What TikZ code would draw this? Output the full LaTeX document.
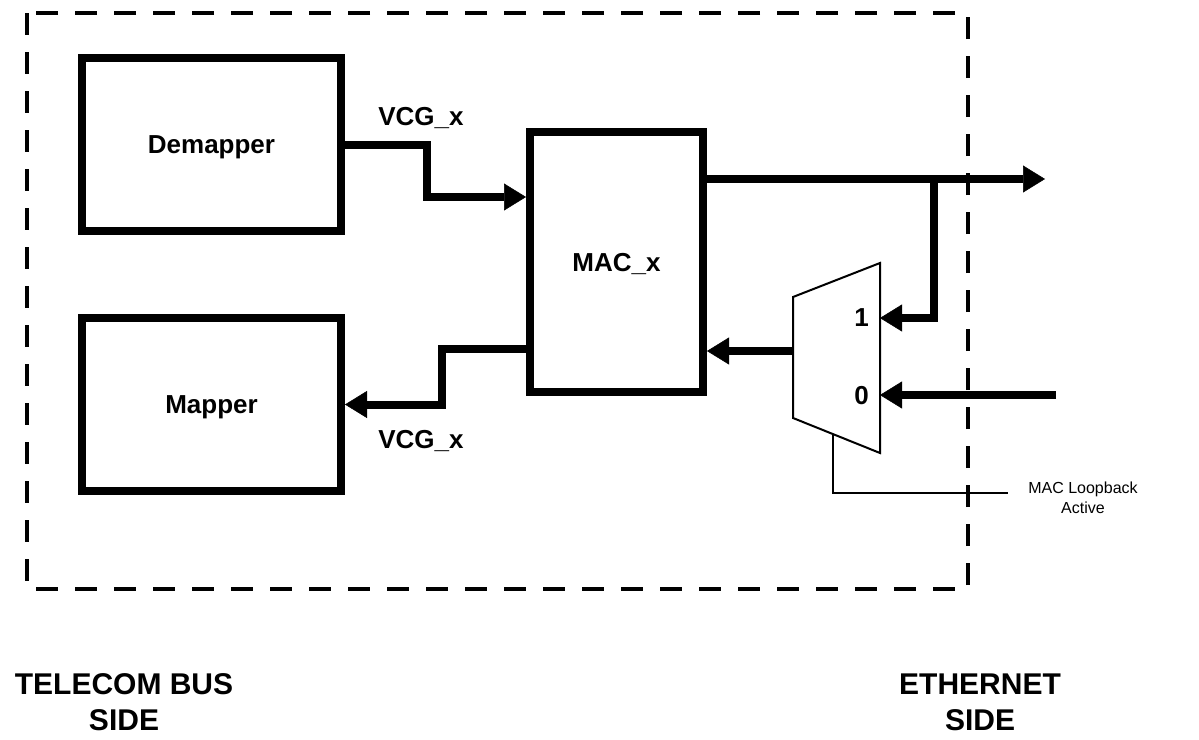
\documentclass[tikz,border=0pt]{standalone}
\usepackage{fontspec}
\setmainfont{Liberation Sans}
\usetikzlibrary{arrows.meta,calc}
\begin{document}
\begin{tikzpicture}[x=1pt,y=-1pt,
  blk/.style={draw,line width=8pt,inner sep=0pt,text depth=0pt,
    font=\fontsize{26}{30}\selectfont\bfseries},
  wire/.style={line width=8pt},
  arr/.style={wire,-{Triangle[length=22pt,width=27pt,line width=0.5pt]}},
  thin/.style={line width=2pt},
  lbl/.style={inner sep=0pt,font=\fontsize{26}{30}\selectfont\bfseries},
  side/.style={inner sep=0pt,align=center,anchor=north,font=\fontsize{30}{36}\selectfont\bfseries}]
\useasboundingbox (0,0) rectangle (1199,739);
% dashed boundary
\draw[line width=4.5pt,dash pattern=on 22pt off 17pt] (27,13) rectangle (968,589);
% blocks
\node[blk,minimum width=259pt,minimum height=173pt] (dem) at (211.5,144.5) {Demapper};
\node[blk,minimum width=259pt,minimum height=173pt] (map) at (211.5,404.5) {Mapper};
\node[blk,minimum width=173pt,minimum height=260pt] (mac) at (616.5,262) {MAC\_x};
% mux
\coordinate (mA) at (793,297);
\coordinate (mB) at (880,263);
\coordinate (mC) at (880,453);
\coordinate (mD) at (793,418);
\draw[thin,line join=miter] (mA) -- (mB) -- (mC) -- (mD) -- cycle;
\coordinate (in1) at (880,318);
\coordinate (in0) at (880,395);
\coordinate (mout) at (793,351);
\coordinate (sel) at ($(mD)!0.46!(mC)$);
\node[lbl,anchor=base] (l1) at (861.5,326) {1};
\node[lbl,anchor=base] (l0) at (861.5,404) {0};
% connectors
\coordinate (j1) at (427,144.5);
\draw[arr] (dem.east) -- (j1) |- (mac.west |- 0,197);
\coordinate (j2) at (442,349);
\draw[arr] (mac.west |- j2) -- (j2) |- (map.east);
\coordinate (outE) at (1045,179);
\draw[arr] (mac.east |- outE) -- (outE);
\coordinate (br) at (934,179);
\draw[arr] (br) |- (in1);
\draw[arr] (mout) -- (mac.east |- mout);
\coordinate (e0) at (1056,395);
\draw[arr] (e0) -- (in0);
\coordinate (selE) at (1008,493);
\draw[thin] (sel) |- (selE);
% labels
\node[lbl,anchor=base] (v1) at (421,125) {VCG\_x};
\node[lbl,anchor=base] (v2) at (421,448) {VCG\_x};
\node[inner sep=0pt,align=center,anchor=north,font=\fontsize{16}{20}\selectfont] (loop) at (1083,481.5) {MAC Loopback\\Active};
\node[side] (tel) at (124,673) {TELECOM BUS\\SIDE};
\node[side] (eth) at (980,674) {ETHERNET\\SIDE};
\end{tikzpicture}
\end{document}
